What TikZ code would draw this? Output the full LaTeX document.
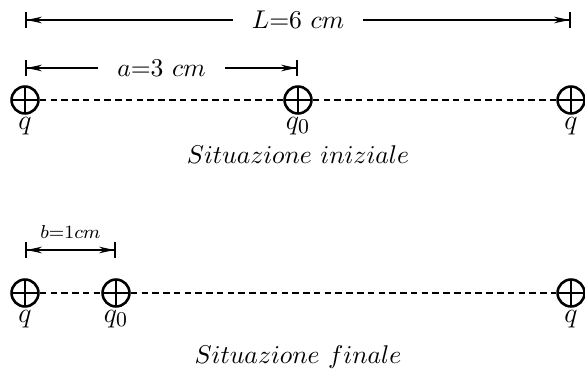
\documentclass[tikz,border=0pt]{standalone}
\usetikzlibrary{arrows.meta,positioning}

\begin{document}
\begin{tikzpicture}[x=0.427pt,y=-0.427pt, font=\fontsize{11.2}{13}\selectfont,
  charge/.style={draw, circle, line width=1.1pt, inner sep=0pt, minimum size=11.5pt,
    path picture={\draw[line width=1.1pt]
      (path picture bounding box.north) -- (path picture bounding box.south)
      (path picture bounding box.west) -- (path picture bounding box.east);}},
  link/.style={dash pattern=on 2.8pt off 1.8pt, line width=0.6pt},
  dimL/.style={line width=0.7pt, {Bar[width=7pt]Stealth[length=6.5pt,width=2.8pt,inset=2pt]}-},
  dimR/.style={line width=0.7pt, -{Stealth[length=6.5pt,width=2.8pt,inset=2pt]Bar[width=7pt]}},
  dimLR/.style={line width=0.7pt, {Bar[width=7pt]Stealth[length=6.5pt,width=2.8pt,inset=2pt]}-{Stealth[length=6.5pt,width=2.8pt,inset=2pt]Bar[width=7pt]}},
  dimtext/.style={inner xsep=8pt},
  qtext/.style={font=\fontsize{13}{15}\selectfont}]
\useasboundingbox (0,0) rectangle (585,372);

% --- SITUAZIONE INIZIALE ---
% quote
  \coordinate (Ls) at (25,20);
  \coordinate (Le) at (571,20);
  \node[dimtext] (tL) at (298,20) {$L{=}6\ cm$};
  \draw[dimL] (Ls) -- (tL);
  \draw[dimR] (tL) -- (Le);

  \coordinate (as) at (25,68);
  \coordinate (ae) at (298,68);
  \node[dimtext] (ta) at (161.5,68) {$a{=}3\ cm$};
  \draw[dimL] (as) -- (ta);
  \draw[dimR] (ta) -- (ae);

% cariche
  \node[charge] (q1) at (25,100) {};
  \node[charge] (q0) at (298,100) {};
  \node[charge] (q2) at (571,100) {};
  \draw[link] (q1) -- (q0) -- (q2);

  \node[qtext, below=-2.5pt of q1] (tq1) {$q$};
  \node[qtext, below=-2.5pt of q0] (tq0) {$q_0$};
  \node[qtext, below=-2.5pt of q2] (tq2) {$q$};

  \node (ini) at (298,155) {$Situazione\ iniziale$};

% --- SITUAZIONE FINALE ---
% quota
  \coordinate (bs) at (25,250);
  \coordinate (be) at (116,250);
  \draw[dimLR] (bs) -- (be);
  \node[anchor=south, font=\footnotesize] (tb) at (70.5,247) {$b{=}1cm$};

% cariche
  \node[charge] (p1) at (25,293) {};
  \node[charge] (p0) at (116,293) {};
  \node[charge] (p2) at (571,293) {};
  \draw[link] (p1) -- (p0) -- (p2);

  \node[qtext, below=-2.5pt of p1] (tp1) {$q$};
  \node[qtext, below=-2.5pt of p0] (tp0) {$q_0$};
  \node[qtext, below=-2.5pt of p2] (tp2) {$q$};

  \node (fin) at (298,357) {$Situazione\ finale$};
\end{tikzpicture}
\end{document}
